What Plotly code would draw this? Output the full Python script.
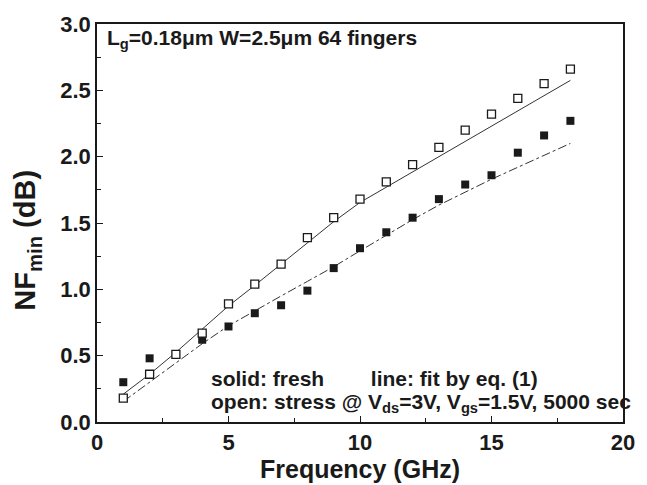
import plotly.graph_objects as go

freq = [1, 2, 3, 4, 5, 6, 7, 8, 9, 10, 11, 12, 13, 14, 15, 16, 17, 18]
nf_fresh = [0.30, 0.48, 0.51, 0.62, 0.72, 0.82, 0.88, 0.99, 1.16, 1.31, 1.43, 1.54,
            1.68, 1.79, 1.86, 2.03, 2.16, 2.27]
nf_stress = [0.18, 0.36, 0.51, 0.67, 0.89, 1.04, 1.19, 1.39, 1.54, 1.68, 1.81, 1.94,
             2.07, 2.20, 2.32, 2.44, 2.55, 2.66]
fit_fresh = [0.155, 0.30, 0.445, 0.59, 0.725, 0.84, 0.95, 1.06, 1.17, 1.29, 1.41, 1.525,
             1.635, 1.735, 1.83, 1.92, 2.01, 2.10]
fit_stress = [0.21, 0.36, 0.525, 0.70, 0.875, 1.03, 1.19, 1.35, 1.51, 1.655, 1.77, 1.885,
              2.0, 2.12, 2.235, 2.35, 2.46, 2.575]

x_ticks = [0, 5, 10, 15, 20]
y_ticks = [0.0, 0.5, 1.0, 1.5, 2.0, 2.5, 3.0]

INK = "#1a1a1a"
FONT = "Liberation Sans, Arial, sans-serif"

fig = go.Figure()
fig.add_trace(go.Scatter(x=freq, y=fit_stress, mode="lines",
                         line=dict(color="#333333", width=1), showlegend=False))
fig.add_trace(go.Scatter(x=freq, y=fit_fresh, mode="lines",
                         line=dict(color="#333333", width=1, dash="dashdot"), showlegend=False))
fig.add_trace(go.Scatter(x=freq, y=nf_fresh, mode="markers",
                         marker=dict(symbol="square", size=8, color=INK,
                                     line=dict(width=0)), showlegend=False))
fig.add_trace(go.Scatter(x=freq, y=nf_stress, mode="markers",
                         marker=dict(symbol="square", size=8, color="white",
                                     line=dict(width=1.3, color=INK)), showlegend=False))

axis_common = dict(
    showgrid=False, zeroline=False, showline=True, linecolor=INK, linewidth=1.5,
    mirror=True, ticks="inside", ticklen=6, tickwidth=1.2, tickcolor=INK,
    ticklabeloverflow="allow",
    tickfont=dict(family=FONT, size=22, color=INK, weight="bold"),
)

fig.update_xaxes(range=[0, 20], tickvals=x_ticks,
                 minor=dict(ticks="inside", ticklen=4, tickcolor=INK, dtick=2.5, tick0=0),
                 title=dict(text="Frequency (GHz)", standoff=0,
                            font=dict(family=FONT, size=25, color=INK, weight="bold")),
                 **axis_common)
fig.update_yaxes(range=[0, 3.0], tickvals=y_ticks, tickformat=".1f",
                 minor=dict(ticks="inside", ticklen=4, tickcolor=INK, dtick=0.25, tick0=0),
                 **axis_common)

# y-axis title (placed as rotated annotation to match reference position)
fig.add_annotation(x=-0.132, y=(428 - 242) / 407, xref="paper", yref="paper",
                   xanchor="center", yanchor="middle", textangle=-90,
                   text="NF<sub>min</sub> (dB)", showarrow=False,
                   font=dict(family=FONT, size=29, color=INK, weight="bold"))

ann_font = dict(family=FONT, size=21, color=INK, weight="bold")
fig.add_annotation(x=0.015, y=1.0, xref="paper", yref="paper", xanchor="left", yanchor="top",
                   text="L<sub>g</sub>=0.18μm W=2.5μm 64 fingers", showarrow=False, font=ann_font)
fig.add_annotation(x=0.213, y=(428 - 384) / 407, xref="paper", yref="paper",
                   xanchor="left", yanchor="middle",
                   text="solid: fresh        line: fit by eq. (1)", showarrow=False, font=ann_font)
fig.add_annotation(x=0.213, y=(428 - 409) / 407, xref="paper", yref="paper",
                   xanchor="left", yanchor="middle",
                   text="open: stress @ V<sub>ds</sub>=3V, V<sub>gs</sub>=1.5V, 5000 sec",
                   showarrow=False, font=ann_font)

fig.update_layout(width=647, height=485, margin=dict(l=97, r=13, t=21, b=57),
                  paper_bgcolor="white", plot_bgcolor="white",
                  font=dict(family=FONT, color=INK))

fig.write_html("out.html")
